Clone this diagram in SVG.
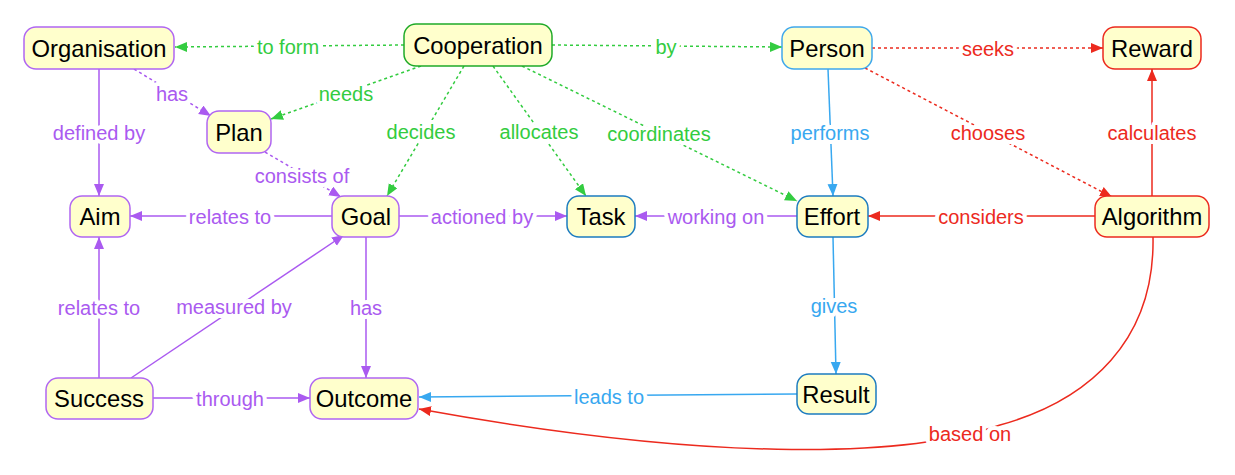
<svg xmlns="http://www.w3.org/2000/svg" width="1235" height="475" viewBox="0 0 1235 475">
<style>
.node rect{fill:#ffffcc;stroke-width:1.5}
.node text{font-family:"Liberation Sans",Arial,sans-serif;font-size:23.8px;fill:#000;text-anchor:middle;dominant-baseline:central}
.pu rect{stroke:#b066f2}.gr rect{stroke:#1faa28}.lb rect{stroke:#40a8ec}.db rect{stroke:#1d7cc0}.rd rect{stroke:#ec2a1e}
.e{fill:none;stroke-width:1.5}
.dot{stroke-dasharray:3 3}
.g{stroke:#33cc40}.p{stroke:#aa5af0}.b{stroke:#38a8f0}.r{stroke:#ec2a1e}
.lbl{font-family:"Liberation Sans",Arial,sans-serif;font-size:20px;text-anchor:middle;dominant-baseline:central;stroke:#fff;stroke-width:8;paint-order:stroke;stroke-linejoin:round}
.lg{fill:#33cc40}.lp{fill:#aa5af0}.lbb{fill:#38a8f0}.lr{fill:#ec2a1e}
</style>
<defs>
<marker id="ag" markerUnits="userSpaceOnUse" markerWidth="13" markerHeight="11" refX="12" refY="5" orient="auto"><path d="M0,0 L12,5 L0,10 z" fill="#33cc40"/></marker>
<marker id="ap" markerUnits="userSpaceOnUse" markerWidth="13" markerHeight="11" refX="12" refY="5" orient="auto"><path d="M0,0 L12,5 L0,10 z" fill="#aa5af0"/></marker>
<marker id="ab" markerUnits="userSpaceOnUse" markerWidth="13" markerHeight="11" refX="12" refY="5" orient="auto"><path d="M0,0 L12,5 L0,10 z" fill="#38a8f0"/></marker>
<marker id="ar" markerUnits="userSpaceOnUse" markerWidth="13" markerHeight="11" refX="12" refY="5" orient="auto"><path d="M0,0 L12,5 L0,10 z" fill="#ec2a1e"/></marker>
</defs>
<rect width="1235" height="475" fill="#fff"/>
<g id="connectors">
<path class="e g dot" d="M404,45 L175,47" marker-end="url(#ag)"/>
<path class="e g dot" d="M552,45 L782,47" marker-end="url(#ag)"/>
<path class="e g dot" d="M421,66 L271,119" marker-end="url(#ag)"/>
<path class="e g dot" d="M464,66 L387,196" marker-end="url(#ag)"/>
<path class="e g dot" d="M493,66 L586,196" marker-end="url(#ag)"/>
<path class="e g dot" d="M522,66 L797,201" marker-end="url(#ag)"/>
<path class="e p dot" d="M134,69 L211,116" marker-end="url(#ap)"/>
<path class="e p" d="M99,69 L99,196" marker-end="url(#ap)"/>
<path class="e p dot" d="M265,152 L341,197" marker-end="url(#ap)"/>
<path class="e p" d="M332,216 L130,216" marker-end="url(#ap)"/>
<path class="e p" d="M399,216 L567,216" marker-end="url(#ap)"/>
<path class="e p" d="M797,216 L635,216" marker-end="url(#ap)"/>
<path class="e p" d="M366,237 L366,378" marker-end="url(#ap)"/>
<path class="e p" d="M99,378 L99,237" marker-end="url(#ap)"/>
<path class="e p" d="M131,378 L344,235" marker-end="url(#ap)"/>
<path class="e p" d="M153,398 L310,398" marker-end="url(#ap)"/>
<path class="e b" d="M797,394 L419,397" marker-end="url(#ab)"/>
<path class="e b" d="M828,69 L833,196" marker-end="url(#ab)"/>
<path class="e b" d="M833,237 L836,374" marker-end="url(#ab)"/>
<path class="e r dot" d="M872,48 L1103,48" marker-end="url(#ar)"/>
<path class="e r dot" d="M865,68 L1112,197" marker-end="url(#ar)"/>
<path class="e r" d="M1152,196 L1152,69" marker-end="url(#ar)"/>
<path class="e r" d="M1095,216 L868,216" marker-end="url(#ar)"/>
<path class="e r" d="M1153,237 C1155,340 1090,400 1000,425 C900,460 700,460 419,409" marker-end="url(#ar)"/>
<text class="lbl lg" x="288" y="47">to form</text>
<text class="lbl lg" x="666" y="47">by</text>
<text class="lbl lg" x="346" y="94">needs</text>
<text class="lbl lg" x="421" y="132">decides</text>
<text class="lbl lg" x="539" y="132">allocates</text>
<text class="lbl lg" x="659" y="134">coordinates</text>
<text class="lbl lp" x="172" y="94">has</text>
<text class="lbl lp" x="99" y="133">defined by</text>
<text class="lbl lp" x="302" y="176">consists of</text>
<text class="lbl lp" x="230" y="217">relates to</text>
<text class="lbl lp" x="482" y="217">actioned by</text>
<text class="lbl lp" x="716" y="217">working on</text>
<text class="lbl lp" x="366" y="308">has</text>
<text class="lbl lp" x="99" y="308">relates to</text>
<text class="lbl lp" x="234" y="307">measured by</text>
<text class="lbl lp" x="230" y="399">through</text>
<text class="lbl lbb" x="609" y="397">leads to</text>
<text class="lbl lbb" x="830" y="133">performs</text>
<text class="lbl lbb" x="834" y="306">gives</text>
<text class="lbl lr" x="988" y="49">seeks</text>
<text class="lbl lr" x="988" y="133">chooses</text>
<text class="lbl lr" x="1152" y="133">calculates</text>
<text class="lbl lr" x="981" y="217">considers</text>
<text class="lbl lr" x="970" y="434">based on</text>
</g>
<g id="n-organisation" class="node pu"><rect x="24" y="27" width="150" height="42" rx="12"/><text x="99" y="48">Organisation</text></g>
<g id="n-cooperation" class="node gr"><rect x="404" y="24" width="148" height="42" rx="12"/><text x="478" y="45">Cooperation</text></g>
<g id="n-person" class="node lb"><rect x="782" y="27" width="90" height="42" rx="12"/><text x="827" y="48">Person</text></g>
<g id="n-reward" class="node rd"><rect x="1103" y="27" width="98" height="42" rx="12"/><text x="1152" y="48">Reward</text></g>
<g id="n-plan" class="node pu"><rect x="207" y="111" width="64" height="42" rx="12"/><text x="239" y="132">Plan</text></g>
<g id="n-aim" class="node pu"><rect x="70" y="196" width="60" height="41" rx="12"/><text x="100" y="216">Aim</text></g>
<g id="n-goal" class="node pu"><rect x="332" y="196" width="67" height="41" rx="12"/><text x="366" y="216">Goal</text></g>
<g id="n-task" class="node db"><rect x="567" y="196" width="68" height="41" rx="12"/><text x="601" y="216">Task</text></g>
<g id="n-effort" class="node db"><rect x="797" y="196" width="71" height="41" rx="12"/><text x="832" y="216">Effort</text></g>
<g id="n-algorithm" class="node rd"><rect x="1095" y="196" width="114" height="41" rx="12"/><text x="1152" y="216">Algorithm</text></g>
<g id="n-success" class="node pu"><rect x="46" y="378" width="107" height="41" rx="12"/><text x="99" y="398">Success</text></g>
<g id="n-outcome" class="node pu"><rect x="310" y="378" width="108" height="41" rx="12"/><text x="364" y="398">Outcome</text></g>
<g id="n-result" class="node db"><rect x="797" y="374" width="79" height="40" rx="12"/><text x="836" y="394">Result</text></g>
</svg>
